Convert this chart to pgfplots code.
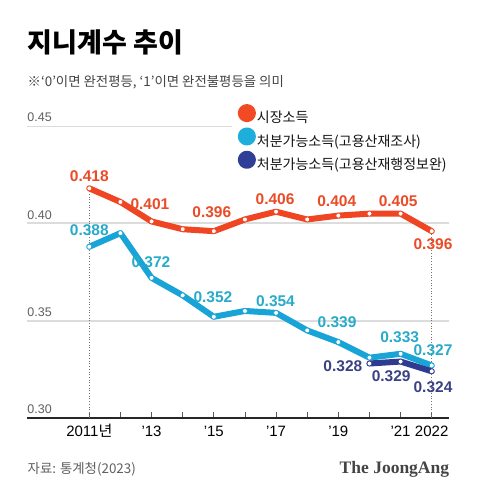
\documentclass[border=0pt]{standalone}
\usepackage{pgfplots}
\pgfplotsset{compat=1.18}
\usepackage{fontspec}
\setmainfont{Liberation Sans}
\newfontfamily\kr{Noto Sans CJK KR}
\newfontfamily\jserif{Liberation Serif}
\definecolor{lineO}{HTML}{F04522}
\definecolor{lineC}{HTML}{19A4D8}
\definecolor{lineN}{HTML}{2F3B8E}
\definecolor{labO}{HTML}{EB4B27}
\definecolor{labC}{HTML}{28ABCB}
\definecolor{labN}{HTML}{3A4283}
\definecolor{legO}{HTML}{F14A24}
\definecolor{legC}{HTML}{1DAEDB}
\definecolor{legN}{HTML}{2F3E97}
\definecolor{gridc}{HTML}{DCDCDC}
\definecolor{txtgray}{HTML}{606060}
\definecolor{subgray}{HTML}{444444}
\tikzset{
  lab/.style={font=\bfseries\fontsize{15.5bp}{18bp}\selectfont, inner sep=0pt},
  ylab/.style={font=\fontsize{12.5bp}{15bp}\selectfont, inner sep=0pt, anchor=west, text=txtgray},
}
\begin{document}
\begin{tikzpicture}
\fill[white] (0bp,0bp) rectangle (480bp,493bp);
\node[anchor=base west, inner sep=0pt, font=\kr\bfseries\fontsize{27bp}{30bp}\selectfont] at (27.5bp,440bp) {지니계수 추이};
\node[anchor=base west, inner sep=0pt, text=subgray, font=\kr\fontsize{13.4bp}{16bp}\selectfont] at (27.5bp,406bp) {※‘0’이면 완전평등, ‘1’이면 완전불평등을 의미};
\node[anchor=base west, inner sep=0pt, text=txtgray, font=\kr\fontsize{13.4bp}{16bp}\selectfont] at (27.5bp,20bp) {자료: 통계청(2023)};
\node[anchor=base east, inner sep=0pt, text=subgray, font=\jserif\bfseries\fontsize{17.5bp}{20bp}\selectfont] at (449.3bp,20bp) {The JoongAng};
\begin{axis}[
  at={(27.3bp,75bp)}, anchor=south west,
  scale only axis, width=422bp, height=311.4bp,
  xmin=2009.008, xmax=2022.565, ymin=0.30, ymax=0.46,
  clip=false,
  axis x line*=bottom, axis y line=none,
  x axis line style={-, color=black!85, line width=1.2bp},
  ytick=\empty,
  xtick={2011,...,2022},
  xticklabels={2011{\kr 년},,{’13},,{’15},,{’17},,{’19},,{’21},2022},
  xtick align=inside, major tick length=6bp,
  xtick style={color=black!65, line width=0.8bp},
  xticklabel style={anchor=base, yshift=-19bp, font=\fontsize{15bp}{18bp}\selectfont, text=black, inner sep=0pt},
  legend style={at={(rel axis cs:0.4990,1.008)}, anchor=north west, draw=none, fill=none,
    inner sep=0pt, outer sep=0pt, row sep=3bp, column sep=1bp,
    font=\kr\fontsize{14bp}{16bp}\selectfont, text=black!92,
    nodes={inner sep=0pt}},
  legend cell align=left,
]
% grid lines
\draw[gridc, line width=2bp] (axis cs:2009.008,0.35) -- (axis cs:2022.565,0.35);
\draw[gridc, line width=2bp] (axis cs:2009.008,0.40) -- (axis cs:2022.565,0.40);
\draw[gridc, line width=0.9bp] (axis cs:2009.008,0.45) -- (axis cs:2015.58,0.45);
\node[ylab, yshift=8.5bp] at (axis cs:2009.008,0.45) {0.45};
\node[ylab, yshift=8.5bp] at (axis cs:2009.008,0.40) {0.40};
\node[ylab, yshift=8.5bp] at (axis cs:2009.008,0.35) {0.35};
\node[ylab, yshift=8.5bp] at (axis cs:2009.008,0.30) {0.30};
% dotted verticals
\draw[black!55, dotted, line width=0.7bp] (axis cs:2011,0.30) -- (axis cs:2011,0.418);
\draw[black!55, dotted, line width=0.7bp] (axis cs:2022,0.30) -- (axis cs:2022,0.396);

\addplot[lineO, line width=6bp, line join=round, line cap=round, mark=*, mark size=2.5bp,
  mark options={fill=white, draw=lineO, line width=0.7bp},
  legend image code/.code={\fill[legO] (0bp,4.8bp) circle (6bp);}]
  coordinates {(2011,0.418) (2012,0.411) (2013,0.401) (2014,0.397) (2015,0.396) (2016,0.402)
               (2017,0.406) (2018,0.402) (2019,0.404) (2020,0.405) (2021,0.405) (2022,0.396)};
\addlegendentry{시장소득}
\addplot[lineC, line width=6bp, line join=round, line cap=round, mark=*, mark size=2.5bp,
  mark options={fill=white, draw=lineC, line width=0.7bp},
  legend image code/.code={\fill[legC] (0bp,4.8bp) circle (6bp);}]
  coordinates {(2011,0.388) (2012,0.395) (2013,0.372) (2014,0.363) (2015,0.352) (2016,0.355)
               (2017,0.354) (2018,0.345) (2019,0.339) (2020,0.331) (2021,0.333) (2022,0.327)};
\addlegendentry{처분가능소득(고용산재조사)}
\addplot[lineN, line width=6bp, line join=round, line cap=round, mark=*, mark size=2.5bp,
  mark options={fill=white, draw=lineN, line width=0.7bp},
  legend image code/.code={\fill[legN] (0bp,4.8bp) circle (6bp);}]
  coordinates {(2020,0.328) (2021,0.329) (2022,0.324)};
\addlegendentry{처분가능소득(고용산재행정보완)}

% labels orange
\node[lab, text=labO, yshift=12bp] at (axis cs:2011,0.418) {0.418};
\node[lab, text=labO, xshift=-1.6bp, yshift=17bp] at (axis cs:2013,0.401) {0.401};
\node[lab, text=labO, xshift=-2bp, yshift=19bp] at (axis cs:2015,0.396) {0.396};
\node[lab, text=labO, xshift=-1bp, yshift=13bp] at (axis cs:2017,0.406) {0.406};
\node[lab, text=labO, xshift=-1.6bp, yshift=14bp] at (axis cs:2019,0.404) {0.404};
\node[lab, text=labO, xshift=-2.4bp, yshift=12bp] at (axis cs:2021,0.405) {0.405};
\node[lab, text=labO, xshift=1.3bp, yshift=-13bp] at (axis cs:2022,0.396) {0.396};
% labels cyan
\node[lab, text=labC, yshift=17bp] at (axis cs:2011,0.388) {0.388};
\node[lab, text=labC, xshift=-0.6bp, yshift=16bp] at (axis cs:2013,0.372) {0.372};
\node[lab, text=labC, xshift=-0.9bp, yshift=20bp] at (axis cs:2015,0.352) {0.352};
\node[lab, text=labC, xshift=-0.6bp, yshift=12bp] at (axis cs:2017,0.354) {0.354};
\node[lab, text=labC, xshift=-1.3bp, yshift=19.6bp] at (axis cs:2019,0.339) {0.339};
\node[lab, text=labC, xshift=-0.9bp, yshift=17bp] at (axis cs:2021,0.333) {0.333};
\node[lab, text=labC, xshift=1.3bp, yshift=15bp] at (axis cs:2022,0.327) {0.327};
% labels navy
\node[lab, text=labN, anchor=east, xshift=-7bp, yshift=-2.5bp] at (axis cs:2020,0.328) {0.328};
\node[lab, text=labN, xshift=-9.4bp, yshift=-14.4bp] at (axis cs:2021,0.329) {0.329};
\node[lab, text=labN, xshift=1.3bp, yshift=-16bp] at (axis cs:2022,0.324) {0.324};
\end{axis}
\end{tikzpicture}
\end{document}
